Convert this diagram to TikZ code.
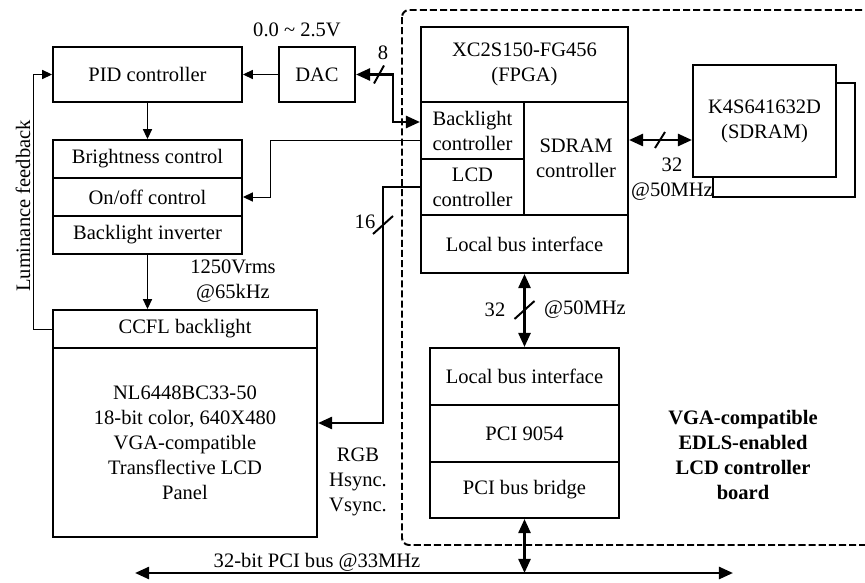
\documentclass[tikz,border=0pt]{standalone}
\usepackage{fontspec}
\setmainfont{Liberation Serif}
\usetikzlibrary{arrows.meta}

\tikzset{
  blk/.style={draw,line width=1.4pt,fill=white,inner sep=0pt,align=center},
  bt/.tip={Triangle[length=10pt,width=8.5pt]},
  st/.tip={Triangle[length=7pt,width=6.5pt]},
  sigline/.style={line width=0.7pt,-st},
  busline/.style={line width=1.9pt},
  slash/.style={line width=1.4pt}
}

\begin{document}
\begin{tikzpicture}[x=0.025cm,y=-0.025cm,font=\fontsize{14.6}{17.8}\selectfont]
\useasboundingbox (0,0) rectangle (865,583);

% Controller board outline
\draw[dash pattern=on 5pt off 2.2pt,line width=1.4pt,rounded corners=5pt] (402,10) rectangle (900,545);

% PID controller and DAC
\node[blk,minimum width=4.725cm,minimum height=1.375cm] (pid) at (147.5,74.5) {PID controller};
\node[blk,minimum width=1.9cm,minimum height=1.375cm] (dac) at (317,74.5) {DAC};
\node (volt) at (297,30) {0.0 \textasciitilde{} 2.5V};

% Inverter stack
\node[blk,minimum width=4.725cm,minimum height=0.95cm] (bright) at (147.5,159) {Brightness control};
\node[blk,minimum width=4.725cm,minimum height=0.95cm] (onoff) at (147.5,197) {On/off control};
\node[blk,minimum width=4.725cm,minimum height=0.95cm] (inv) at (147.5,235) {Backlight inverter};
\node[align=center] (vrms) at (233,281) {1250Vrms\\@65kHz};

% LCD panel
\node[blk,minimum width=6.6cm,minimum height=0.95cm] (ccfl) at (185,329) {CCFL backlight};
\node[blk,minimum width=6.6cm,minimum height=4.725cm] (panel) at (185,442.5)
  {NL6448BC33-50\\18-bit color, 640X480\\VGA-compatible\\Transflective LCD\\Panel};
\node[rotate=90] (lum) at (23,206) {Luminance feedback};
\node[align=center] (rgb) at (358,482) {RGB\\Hsync.\\Vsync.};

% FPGA
\node[blk,minimum width=5.175cm,minimum height=1.875cm] (fpga) at (524.5,64.5) {XC2S150-FG456\\(FPGA)};
\node[blk,minimum width=2.575cm,minimum height=1.425cm] (blc) at (472.5,130.5) {Backlight\\controller};
\node[blk,minimum width=2.575cm,minimum height=1.4cm] (lcdc) at (472.5,187) {LCD\\controller};
\node[blk,minimum width=2.6cm,minimum height=2.825cm] (sdc) at (576,158.5) {SDRAM\\controller};
\node[blk,minimum width=5.175cm,minimum height=1.45cm] (lbi) at (524.5,244) {Local bus interface};

% SDRAM (two chips)
\draw[line width=1.4pt] (713,83) rectangle (855,197);
\node[blk,minimum width=3.575cm,minimum height=2.8cm] (sdram) at (764.5,121) {K4S641632D\\(SDRAM)};
\node[align=center] (sdlab) at (672,179) {32\\@50MHz};

% PCI 9054
\node[blk,minimum width=4.725cm,minimum height=1.425cm] (plbi) at (524.5,376.5) {Local bus interface};
\node[blk,minimum width=4.725cm,minimum height=1.425cm] (pci) at (524.5,433.5) {PCI 9054};
\node[blk,minimum width=4.725cm,minimum height=1.4cm] (bridge) at (524.5,490) {PCI bus bridge};
\node (lb32) at (495,310) {32};
\node (lb50) at (585,310) {@50MHz};
\node[align=center,font=\fontsize{14.6}{17.8}\selectfont\bfseries] (board) at (743,455)
  {VGA-compatible\\EDLS-enabled\\LCD controller\\board};

% PCI bus
\coordinate (busL) at (135,573);
\coordinate (busR) at (733,573);
\node (buslab) at (317,562) {32-bit PCI bus @33MHz};

% Bend points
\coordinate (c8) at (393,122);
\coordinate (c16) at (383,423);
\coordinate (cbl) at (270,140);
\coordinate (c32) at (660,140);

% Thin signal lines
\draw[sigline] (dac.west) -- (pid.east);
\draw[sigline] (pid.south) -- (bright.north);
\draw[sigline] (inv.south) -- (inv.south |- ccfl.north);
\draw[sigline] (ccfl.west) -- ++(-18,0) |- (pid.west);
\draw[sigline] (cbl -| blc.west) -- (cbl) |- (onoff.east);

% Buses
\draw[busline,bt-bt] (dac.east) -| (c8) -- (c8 -| blc.west);
\draw[busline,-bt] (lcdc.west) -| (c16) -- (c16 -| panel.east);
\draw[busline,bt-bt] (c32 -| sdc.east) -- (c32 -| sdram.west);
\draw[busline,bt-bt] (lbi.south) -- (plbi.north);
\draw[busline,bt-bt] (busL) -- (busR);
\draw[busline,bt-bt] (bridge.south) -- (bridge.south |- busL);

% Bus width marks
\draw[slash] (379,74.5) ++(-5,9) -- ++(10,-18);
\draw[slash] (383,225) ++(-10,9) -- ++(20,-18);
\draw[slash] (c32) ++(-5,8) -- ++(10,-16);
\draw[slash] (524.5,310) ++(-10,9) -- ++(20,-18);
\node (n8) at (383,53) {8};
\node (n16) at (365,222) {16};
\end{tikzpicture}
\end{document}
